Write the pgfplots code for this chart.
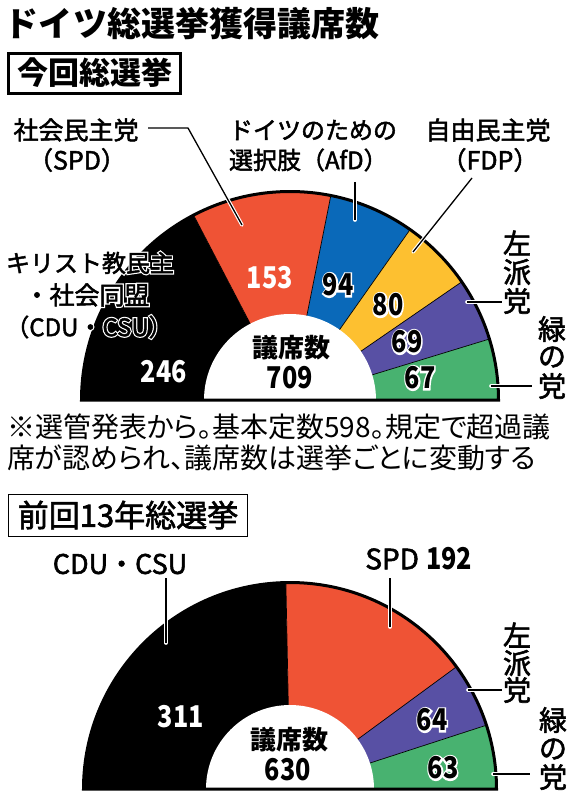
\documentclass[border=0pt]{standalone}
\usepackage{pgfplots}
\pgfplotsset{compat=1.18}
\usepackage{pgfplotstable}
\usepackage{graphicx}
\usepackage{fontspec}
\usetikzlibrary{calc}
\setmainfont{Noto Sans CJK JP}
\newfontfamily\jpp{Noto Sans CJK JP}[RawFeature=+palt]
\newfontfamily\med{Noto Sans CJK JP}[FakeBold=2]
\newfontfamily\halof{Noto Sans CJK JP}[FakeBold=12]

\definecolor{cdu}{RGB}{0,0,0}
\definecolor{spd}{RGB}{239,83,53}
\definecolor{afd}{RGB}{10,105,185}
\definecolor{fdp}{RGB}{253,192,48}
\definecolor{linke}{RGB}{88,80,164}
\definecolor{gruene}{RGB}{72,178,112}

% seats, current election (2017) and previous (2013)
\pgfplotstableread[row sep=\\]{
seats col\\
246 cdu\\
153 spd\\
94 afd\\
80 fdp\\
69 linke\\
67 gruene\\
}\topdata
\pgfplotstableread[row sep=\\]{
seats col\\
311 cdu\\
192 spd\\
64 linke\\
63 gruene\\
}\prevdata

% start/end angle of each party on the half circle (180 -> 0)
\newcommand\computeangles[2]{%
  \pgfplotstablegetrowsof{#1}%
  \pgfmathtruncatemacro\nlast{\pgfplotsretval-1}%
  \gdef\tot{0}%
  \foreach \i in {0,...,\nlast}{%
    \pgfplotstablegetelem{\i}{seats}\of#1%
    \pgfmathsetmacro\tmpv{\tot+\pgfplotsretval}%
    \global\let\tot\tmpv}%
  \gdef\cum{0}%
  \foreach \i in {0,...,\nlast}{%
    \pgfplotstablegetelem{\i}{seats}\of#1%
    \pgfmathsetmacro\aS{180-180*(\cum/\tot)}%
    \pgfmathsetmacro\tmpv{\cum+\pgfplotsretval}%
    \global\let\cum\tmpv
    \pgfmathsetmacro\aE{180-180*(\cum/\tot)}%
    \expandafter\xdef\csname#2start\i\endcsname{\aS}%
    \expandafter\xdef\csname#2end\i\endcsname{\aE}%
    \pgfplotstablegetelem{\i}{col}\of#1%
    \expandafter\xdef\csname#2col\i\endcsname{\pgfplotsretval}%
  }%
}
\computeangles{\topdata}{top}
\computeangles{\prevdata}{prev}

\newcommand\sector[5]{%
  \edef\temp{\noexpand\fill[\csname #1col#2\endcsname]
    (axis cs:#3,#4) -- ++(\csname #1start#2\endcsname:#5pt)
    arc[start angle=\csname #1start#2\endcsname,
        end angle=\csname #1end#2\endcsname, radius=#5pt] -- cycle;}%
  \temp}
\newcommand\divider[5]{%
  \edef\temp{\noexpand\draw[line width=0.7pt]
    (axis cs:#3,#4) -- ++(\csname #1end#2\endcsname:#5pt);}%
  \temp}

\newcommand\pp[2]{(#1pt,-#2pt)}
\newcommand\fs[1]{\fontsize{#1}{#1}\selectfont}
\newcommand\cnum[1]{\scalebox{0.84}[1]{#1}}
% black text on a white outline: an emboldened white copy under it
\newcommand\halo[4]{%
  \node[text=white,#3] at (#1pt,-#2pt) {\halof #4};
  \node[text=black,#3] at (#1pt,-#2pt) {#4};}
\newcommand\leader[1]{%
  \draw[white, line width=3.6pt, line cap=round] #1;
  \draw[black, line width=1.3pt] #1;}

\begin{document}
\begin{tikzpicture}[every node/.style={inner sep=0pt, outer sep=0pt}]
\path[use as bounding box] (0,0) rectangle (581pt,-799pt);
\begin{axis}[x=1pt, y=1pt, xmin=0, xmax=581, ymin=0, ymax=799, y dir=reverse,
  hide axis, clip=false, anchor=origin, at={(0pt,0pt)}]
% current election
\pgfplotsinvokeforeach{0,...,5}{\sector{top}{#1}{290}{400}{209}}
\pgfplotsinvokeforeach{0,...,4}{\divider{top}{#1}{290}{400}{209}}
\fill[white] (axis cs:290,400) ++(0:86pt) arc[start angle=0, end angle=180, radius=86pt] -- cycle;
\draw[line width=3pt] (axis cs:290,400) ++(180:208.5pt) arc[start angle=180, end angle=0, radius=208.5pt] -- cycle;
% previous election
\pgfplotsinvokeforeach{0,...,3}{\sector{prev}{#1}{290}{789}{207}}
\pgfplotsinvokeforeach{0,...,2}{\divider{prev}{#1}{290}{789}{207}}
\fill[white] (axis cs:290,789) ++(0:84pt) arc[start angle=0, end angle=180, radius=84pt] -- cycle;
\draw[line width=3pt] (axis cs:290,789) ++(180:206.5pt) arc[start angle=180, end angle=0, radius=206.5pt] -- cycle;
\end{axis}

% headings
\node[anchor=west, font=\fs{34}\bfseries] at \pp{5}{24} {ドイツ総選挙獲得議席数};
\draw[line width=3pt] \pp{8.5}{53.5} rectangle \pp{180.5}{93.5};
\node[font=\fs{31}\bfseries] at \pp{95}{73} {今回総選挙};
\draw[line width=1.5pt] \pp{8.5}{494.5} rectangle \pp{247.5}{536.5};
\node[font=\med\fs{31}] at \pp{128}{515} {前回13年総選挙};

% leader lines
\leader{\pp{148}{128} -- \pp{188}{128} -- \pp{242}{225}}
\leader{\pp{355}{182} -- \pp{355}{220}}
\leader{\pp{472}{178} -- \pp{413}{252}}
\leader{\pp{467}{302} -- \pp{502}{302}}
\leader{\pp{491}{386} -- \pp{532}{386}}
\leader{\pp{166}{578} -- \pp{166}{643}}
\leader{\pp{390}{578} -- \pp{390}{627}}
\leader{\pp{468}{690} -- \pp{502}{690}}
\leader{\pp{493}{774} -- \pp{530}{774}}

% party labels, current
\node[font=\med\fs{25}] at \pp{76}{130} {社会民主党};
\node[font=\med\fs{25}] at \pp{77}{160} {（SPD）};
\node[anchor=west, font=\med\fs{24}] at \pp{229}{130} {ドイツのための};
\node[anchor=west, font=\med\fs{24}] at \pp{229}{160} {選択肢（AfD）};
\node[font=\med\fs{25}] at \pp{488}{130} {自由民主党};
\node[font=\med\fs{25}] at \pp{490}{160} {（FDP）};
\halo{90}{263}{font=\med\fs{24}}{キリスト教民主}
\halo{87}{295}{font=\med\fs{25}}{・社会同盟}
\halo{89}{327}{font=\med\fs{24}}{（CDU・CSU）}
\foreach \c/\y in {左/243,派/272,党/301}{\node[font=\med\fs{28}] at \pp{517}{\y} {\c};}
\foreach \c/\y in {緑/329,の/357,党/386}{\node[font=\med\fs{28}] at \pp{552}{\y} {\c};}

% seat numbers, current
\node[text=white, font=\fs{30}\bfseries] at \pp{164}{372} {\cnum{246}};
\node[text=white, font=\fs{30}\bfseries] at \pp{270}{278} {\cnum{153}};
\halo{338}{285}{font=\fs{30}\bfseries}{\cnum{94}}
\halo{388}{305}{font=\fs{30}\bfseries}{\cnum{80}}
\halo{407}{342}{font=\fs{30}\bfseries}{\cnum{69}}
\halo{420}{378}{font=\fs{30}\bfseries}{\cnum{67}}
\node[font=\fs{26}\bfseries] at \pp{291}{348} {議席数};
\node[font=\fs{30}\bfseries] at \pp{290}{378} {\cnum{709}};

% note
\node[anchor=west, font=\jpp\fs{28}] at \pp{7}{427} {※選管発表から。基本定数598。規定で超過議};
\node[anchor=west, font=\jpp\fs{28}] at \pp{7}{458} {席が認められ、議席数は選挙ごとに変動する};

% previous election labels
\node[font=\med\fs{27}] at \pp{120}{564} {CDU・CSU};
\node[anchor=east, font=\med\fs{28}] at \pp{419}{559} {SPD};
\node[anchor=west, font=\fs{30}\bfseries] at \pp{426}{559} {\cnum{192}};
\foreach \c/\y in {左/635,派/663,党/690}{\node[font=\med\fs{28}] at \pp{517}{\y} {\c};}
\foreach \c/\y in {緑/720,の/749,党/777}{\node[font=\med\fs{28}] at \pp{553}{\y} {\c};}
\node[text=white, font=\fs{30}\bfseries] at \pp{181}{717} {\cnum{311}};
\halo{432}{720}{font=\fs{30}\bfseries}{\cnum{64}}
\halo{443}{768}{font=\fs{30}\bfseries}{\cnum{63}}
\node[font=\fs{26}\bfseries] at \pp{289}{740} {議席数};
\node[font=\fs{30}\bfseries] at \pp{288}{770} {\cnum{630}};
\end{tikzpicture}
\end{document}
